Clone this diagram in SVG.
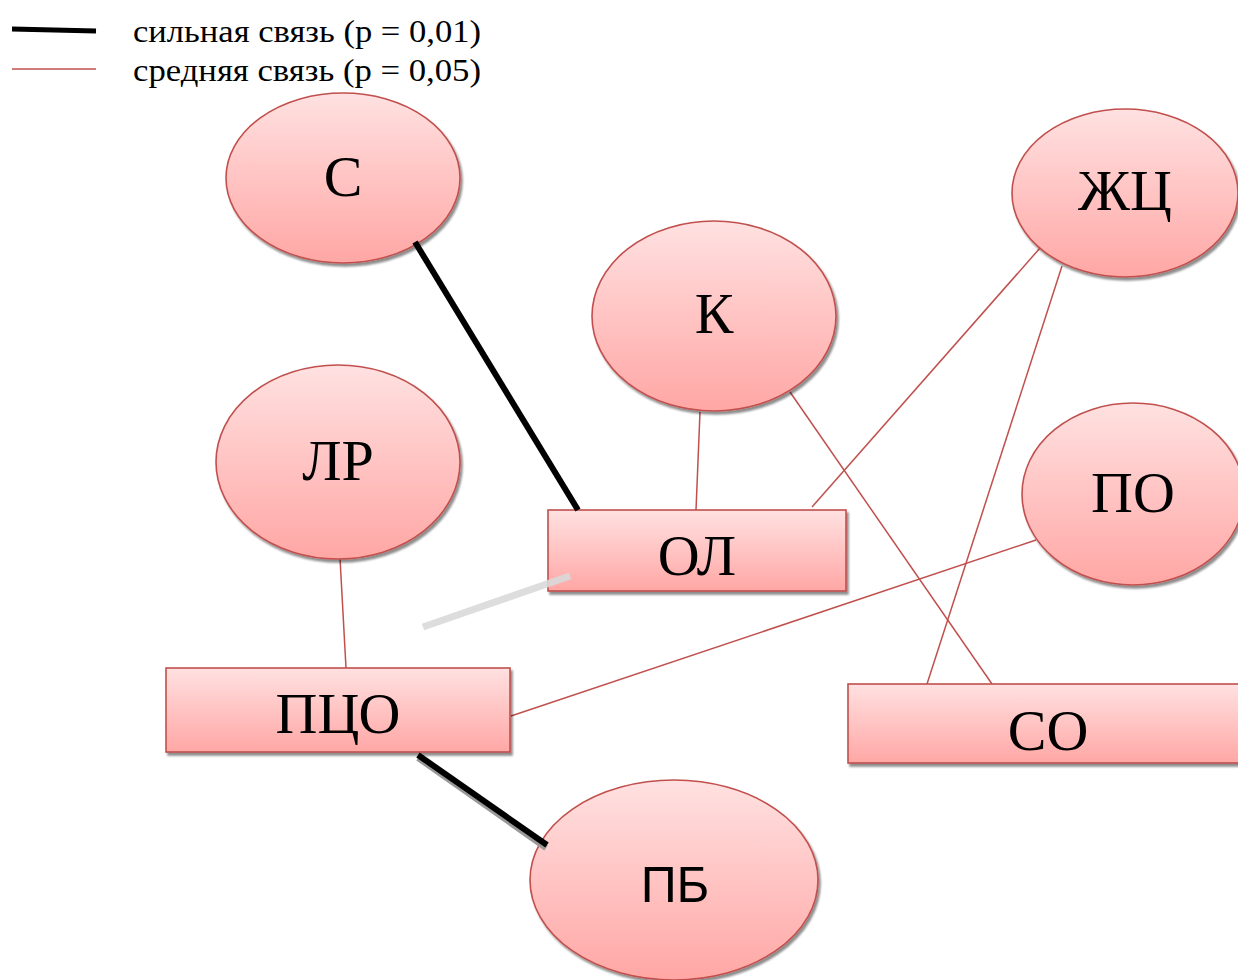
<svg xmlns="http://www.w3.org/2000/svg" width="1238" height="980" viewBox="0 0 1238 980">
<defs>
<linearGradient id="g" x1="0" y1="0" x2="0" y2="1">
<stop offset="0" stop-color="#ffe1e1"/>
<stop offset="1" stop-color="#ffa7a5"/>
</linearGradient>
<filter id="sh" x="-10%" y="-10%" width="130%" height="130%">
<feGaussianBlur in="SourceAlpha" stdDeviation="1.2"/>
<feOffset dx="2" dy="3" result="o"/>
<feComponentTransfer><feFuncA type="linear" slope="0.45"/></feComponentTransfer>
<feMerge><feMergeNode/><feMergeNode in="SourceGraphic"/></feMerge>
</filter>
</defs>
<style>
.n{fill:url(#g);stroke:#c0504d;stroke-width:1.6;filter:url(#sh)}
.t{font-family:"Liberation Serif","Times New Roman",serif;font-size:58px;fill:#000;text-anchor:middle}
.ts{font-family:"Liberation Sans",Arial,sans-serif;font-size:50px;fill:#000;text-anchor:middle}
.lg{font-family:"Liberation Serif","Times New Roman",serif;font-size:32px;fill:#000}
.s{stroke:#000;stroke-width:6;fill:none}
.m{stroke:#c0504d;stroke-width:1.5;fill:none}
</style>
<rect width="1238" height="980" fill="#fff"/>
<g id="legend">
<line x1="12" y1="29" x2="96" y2="31" stroke="#000" stroke-width="5"/>
<line x1="12" y1="69" x2="96" y2="69" stroke="#c0504d" stroke-width="1.5"/>
<text class="lg" x="133" y="42" textLength="348" lengthAdjust="spacingAndGlyphs">сильная связь (p = 0,01)</text>
<text class="lg" x="133" y="81" textLength="348" lengthAdjust="spacingAndGlyphs">средняя связь (p = 0,05)</text>
</g>
<g id="connectors">
<line class="m" x1="700" y1="412" x2="696" y2="510"/>
<line class="m" x1="1040" y1="248" x2="812" y2="507"/>
<line class="m" x1="1062" y1="266" x2="927" y2="684"/>
<line class="m" x1="790" y1="392" x2="992" y2="684"/>
<line class="m" x1="340" y1="558" x2="346" y2="668"/>
<line class="m" x1="1036" y1="540" x2="511" y2="716"/>
</g>
<g id="node-S"><ellipse class="n" cx="343" cy="178" rx="117" ry="85"/><text class="t" x="343" y="196">С</text></g>
<g id="node-K"><ellipse class="n" cx="714" cy="316" rx="122" ry="95"/><text class="t" x="714" y="333">К</text></g>
<g id="node-ZhC"><ellipse class="n" cx="1125" cy="193" rx="113" ry="84"/><text class="t" x="1125" y="210">ЖЦ</text></g>
<g id="node-LR"><ellipse class="n" cx="338" cy="462" rx="122" ry="97"/><text class="t" x="338" y="480">ЛР</text></g>
<g id="node-PO"><ellipse class="n" cx="1133" cy="494" rx="111" ry="91"/><text class="t" x="1133" y="512">ПО</text></g>
<g id="node-PB"><ellipse class="n" cx="674" cy="880" rx="144" ry="100"/><text class="ts" x="675" y="902">ПБ</text></g>
<g id="node-OL"><rect class="n" x="548" y="510" width="298" height="81"/><text class="t" x="697" y="575">ОЛ</text></g>
<g id="node-PCO"><rect class="n" x="166" y="668" width="344" height="84"/><text class="t" x="338" y="733">ПЦО</text></g>
<g id="node-SO"><rect class="n" x="848" y="684" width="394" height="79"/><text class="t" x="1048" y="750">СО</text></g>
<g id="connectors-strong">
<line x1="423" y1="627" x2="570" y2="576" stroke="#d9d9d9" stroke-width="7" stroke-opacity="0.9"/>
<line class="s" x1="415" y1="242" x2="578" y2="510"/>
<line x1="418" y1="758" x2="546" y2="848" stroke="#999" stroke-width="6"/>
<line class="s" x1="418" y1="755" x2="547" y2="845"/>
</g>
</svg>
